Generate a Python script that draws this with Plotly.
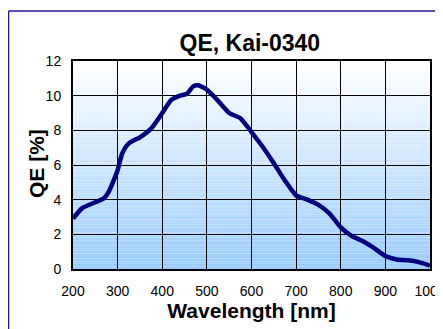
import plotly.graph_objects as go

wavelength = [200, 220, 250, 270, 280, 300, 310, 325, 350, 375, 400, 420, 440, 455, 470, 480,
              500, 525, 550, 575, 600, 625, 650, 675, 700, 725, 750, 775, 800, 825, 850, 875,
              900, 925, 950, 975, 1000]
qe = [2.9, 3.5, 3.85, 4.1, 4.45, 5.7, 6.65, 7.25, 7.6, 8.1, 9.0, 9.75, 10.0, 10.1, 10.55, 10.6,
      10.35, 9.7, 9.0, 8.7, 7.9, 7.05, 6.1, 5.1, 4.25, 4.0, 3.7, 3.2, 2.4, 1.9, 1.6, 1.2,
      0.75, 0.55, 0.5, 0.4, 0.2]

x_ticks = [200, 300, 400, 500, 600, 700, 800, 900, 1000]
y_ticks = [0, 2, 4, 6, 8, 10, 12]


def blend(t):
    # t=0 bottom (light blue) -> t=1 top (white)
    c0 = (0x99, 0xCC, 0xFF)
    c1 = (0xFF, 0xFF, 0xFF)
    return "rgb(%d,%d,%d)" % tuple(round(a + (b - a) * t) for a, b in zip(c0, c1))


n_bands = 80
shapes = []
for i in range(n_bands):
    shapes.append(dict(type="rect", xref="x domain", yref="y domain",
                       x0=0, x1=1, y0=i / n_bands, y1=(i + 1) / n_bands,
                       fillcolor=blend((i + 0.5) / n_bands), line=dict(width=0),
                       layer="below"))

shapes += [
    dict(type="line", xref="paper", yref="paper", x0=-0.1806, x1=1.2, y0=1.24, y1=1.24,
         line=dict(color="#1a1a9a", width=1.5)),
    dict(type="line", xref="paper", yref="paper", x0=-0.1806, x1=-0.1806, y0=-0.4, y1=1.24,
         line=dict(color="#1a1a9a", width=1.5)),
]

fig = go.Figure()
fig.add_trace(go.Scatter(
    x=wavelength, y=qe, mode="lines",
    line=dict(color="#000080", width=4.5, shape="spline", smoothing=0.6),
    hoverinfo="x+y", showlegend=False))

fig.update_layout(
    width=435, height=321,
    margin=dict(l=65, r=13, t=53, b=60, autoexpand=False),
    paper_bgcolor="white", plot_bgcolor="white",
    font=dict(family="Liberation Sans, Arial, sans-serif", color="black"),
    title=dict(text="<b>QE, Kai-0340</b>", x=0.556, xanchor="center",
               y=0.891, yanchor="middle", font=dict(size=23, color="black")),
    shapes=shapes,
    annotations=[dict(text="<b>QE [%]</b>", xref="paper", yref="paper",
                      x=-0.1008, y=0.505, xanchor="center", yanchor="middle",
                      textangle=-90, showarrow=False, font=dict(size=21))],
)

fig.update_xaxes(
    range=[200, 1000], tickvals=x_ticks, ticktext=[str(v) for v in x_ticks],
    showgrid=True, gridcolor="black", gridwidth=1, layer="above traces",
    showline=True, linecolor="black", linewidth=2, mirror=True,
    ticks="outside", ticklen=8, tickcolor="rgba(0,0,0,0)",
    tickfont=dict(size=14), zeroline=False, automargin=False, ticklabeloverflow="allow",
    title=dict(text="<b>Wavelength [nm]</b>", font=dict(size=21), standoff=2))
fig.update_yaxes(
    range=[0, 12], tickvals=y_ticks, ticktext=[str(v) for v in y_ticks],
    showgrid=True, gridcolor="black", gridwidth=1, layer="above traces",
    showline=True, linecolor="black", linewidth=2, mirror=True,
    ticks="outside", ticklen=7, tickcolor="rgba(0,0,0,0)",
    tickfont=dict(size=14), zeroline=False, automargin=False, ticklabeloverflow="allow")

fig.write_html("out.html")
